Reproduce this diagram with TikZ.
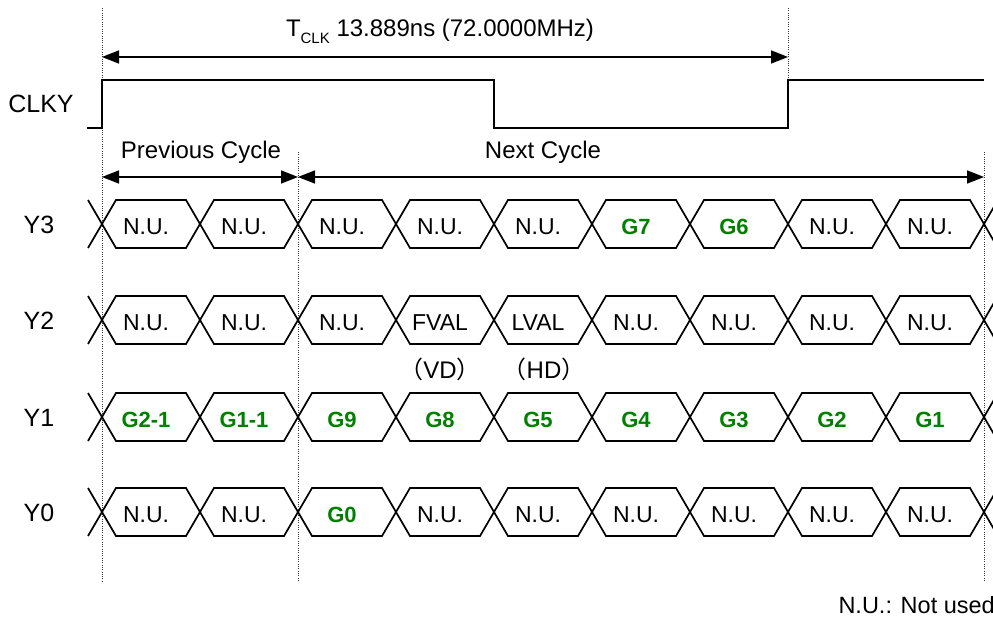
\documentclass[tikz,border=0pt]{standalone}
\usepackage{fontspec}
\setmainfont{Liberation Sans}
\newfontfamily\cjk{Noto Sans CJK JP}
\usetikzlibrary{arrows.meta}
\definecolor{sig}{RGB}{0,128,0}
\begin{document}
\begin{tikzpicture}[x=1pt,y=-1pt,
  wave/.style={line width=1.7pt, line join=miter},
  guide/.style={line width=0.9pt, dash pattern=on 1pt off 1.3pt, black!80},
  dim/.style={line width=1.7pt, {Triangle[length=17pt,width=13pt]}-{Triangle[length=17pt,width=13pt]}},
  lbl/.style={font=\fontsize{25}{29}\selectfont, inner sep=0pt},
  cell/.style={font=\fontsize{23}{27}\selectfont, inner sep=0pt},
  gcell/.style={font=\fontsize{22}{26}\selectfont\bfseries, text=sig, inner sep=0pt},
]
\useasboundingbox (0,0) rectangle (993,620);

% guide lines
\draw[guide] (102,8) -- (102,582);
\draw[guide] (298,152) -- (298,582);
\draw[guide] (788,8) -- (788,80);
\draw[guide] (984,152) -- (984,582);

% period dimension
\coordinate (p0) at (102,57);
\coordinate (p1) at (788,57);
\draw[dim] (p0) -- (p1);
\node[lbl, font=\fontsize{24}{28}\selectfont] (tclk) at (440,31) {T\raisebox{-0.3em}{\fontsize{15}{15}\selectfont CLK} 13.889ns (72.0000MHz)};

% clock
\node[lbl] (clky) at (41,104) {CLKY};
\draw[wave] (87,128) -- (102,128) -- (102,80) -- (494,80) -- (494,128) -- (788,128) -- (788,80) -- (984,80);

% cycles
\coordinate (c0) at (102,177);
\coordinate (c1) at (298,177);
\coordinate (c2) at (984,177);
\draw[dim] (c0) -- (c1);
\draw[dim] (c1) -- (c2);
\node[lbl, font=\fontsize{24}{28}\selectfont] (prev) at (201,152) {Previous Cycle};
\node[lbl, font=\fontsize{24}{28}\selectfont] (next) at (543,152) {Next Cycle};

% data rows
\foreach \yc in {224,320,417,512}{
  \draw[wave] (88,\yc-24) -- (102,\yc) -- (88,\yc+24);
  \foreach \i in {0,...,8}{
    \pgfmathsetmacro\xa{102+98*\i}
    \pgfmathsetmacro\xb{\xa+98}
    \draw[wave] (\xa,\yc) -- (\xa+14,\yc-24) -- (\xb-14,\yc-24) -- (\xb,\yc) -- (\xb-14,\yc+24) -- (\xa+14,\yc+24) -- cycle;
  }
  \draw[wave] (999,\yc-26) -- (984,\yc) -- (999,\yc+26);
}

\node[lbl] (y3) at (39,225) {Y3};
\node[lbl] (y2) at (39,321) {Y2};
\node[lbl] (y1) at (39,418) {Y1};
\node[lbl] (y0) at (39,513) {Y0};

\foreach \i/\t/\s in {0/N.U./cell,1/N.U./cell,2/N.U./cell,3/N.U./cell,4/N.U./cell,5/G7/gcell,6/G6/gcell,7/N.U./cell,8/N.U./cell}
  \node[\s] (y3c\i) at ({146+98*\i},227) {\t};
\foreach \i/\t/\s in {0/N.U./cell,1/N.U./cell,2/N.U./cell,3/FVAL/cell,4/LVAL/cell,5/N.U./cell,6/N.U./cell,7/N.U./cell,8/N.U./cell}
  \node[\s] (y2c\i) at ({146+98*\i},323) {\t};
\foreach \i/\t in {0/G2-1,1/G1-1,2/G9,3/G8,4/G5,5/G4,6/G3,7/G2,8/G1}
  \node[gcell] (y1c\i) at ({146+98*\i},420) {\t};
\foreach \i/\t/\s in {0/N.U./cell,1/N.U./cell,2/G0/gcell,3/N.U./cell,4/N.U./cell,5/N.U./cell,6/N.U./cell,7/N.U./cell,8/N.U./cell}
  \node[\s] (y0c\i) at ({146+98*\i},515) {\t};

\node[cell, font=\fontsize{24}{28}\selectfont] (vd) at (440,369) {{\cjk （}VD{\cjk ）}};
\node[cell, font=\fontsize{24}{28}\selectfont] (hd) at (544,369) {{\cjk （}HD{\cjk ）}};

\node[cell, anchor=east, font=\fontsize{23.5}{27}\selectfont] (note) at (995,605) {N.U.: Not used};
\end{tikzpicture}
\end{document}
